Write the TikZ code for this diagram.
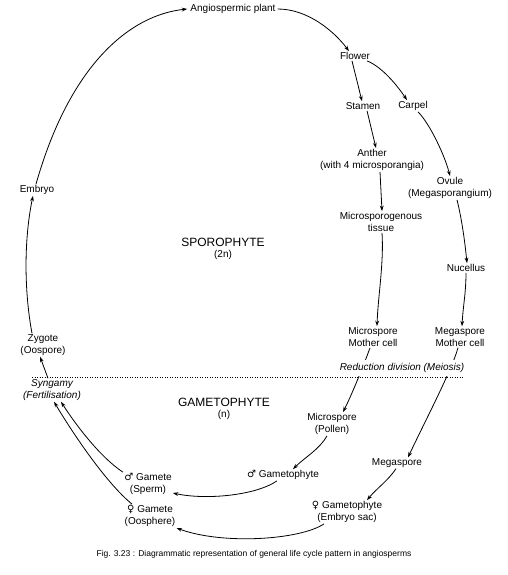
\documentclass[tikz,border=0pt]{standalone}
\usepackage{fontspec}
\setmainfont{Liberation Sans}
\newfontfamily\symfont{DejaVu Sans}
\usetikzlibrary{arrows.meta}
\tikzset{
  lbl/.style={align=center, inner sep=1pt, font=\fontsize{10}{12}\selectfont},
  ilbl/.style={lbl, font=\fontsize{10}{12}\selectfont\itshape},
  big/.style={align=center, inner sep=1pt, font=\fontsize{12}{12.5}\selectfont},
  arr/.style={-{Stealth[length=5.5pt,width=3.8pt]}, line width=0.8pt},
  divline/.style={line width=0.7pt, dash pattern=on 1.2pt off 1.3pt}
}
\begin{document}
\begin{tikzpicture}[x=1pt,y=-1pt]
\useasboundingbox (0,0) rectangle (508,575);
\fill[white] (0,0) rectangle (508,575);
% nodes
\node[lbl] (plant) at (233,9) {Angiospermic plant};
\node[lbl] (flower) at (355,56) {Flower};
\node[lbl] (stamen) at (363,106) {Stamen};
\node[lbl] (carpel) at (413,106) {Carpel};
\node[lbl] (anther) at (372,160) {Anther\\(with 4 microsporangia)};
\node[lbl] (ovule) at (450,188) {Ovule\\(Megasporangium)};
\node[lbl] (embryo) at (37,190) {Embryo};
\node[lbl] (tissue) at (381,222) {Microsporogenous\\tissue};
\node[big] (sporo) at (223,249) {SPOROPHYTE\\[-1pt]{\fontsize{10}{12}\selectfont(2n)}};
\node[lbl] (nucellus) at (466,268) {Nucellus};
\node[lbl] (mmc) at (373,337) {Microspore\\Mother cell};
\node[lbl] (megmc) at (460,337) {Megaspore\\Mother cell};
\node[lbl] (zygote) at (43,345) {Zygote\\(Oospore)};
\node[ilbl] (syngamy) at (52,390) {Syngamy\\(Fertilisation)};
\node[big] (gameto) at (224,409) {GAMETOPHYTE\\[-1pt]{\fontsize{10}{12}\selectfont(n)}};
\node[lbl] (pollen) at (332,424) {Microspore\\(Pollen)};
\node[lbl] (megaspore) at (397,463) {Megaspore};
\node[lbl] (mgphyte) at (283,475) {{\symfont ♂} Gametophyte};
\node[lbl] (mgamete) at (148,484) {{\symfont ♂} Gamete\\(Sperm)};
\node[lbl] (fgamete) at (150,516) {{\symfont ♀} Gamete\\(Oosphere)};
\node[lbl] (fgphyte) at (347,512) {{\symfont ♀} Gametophyte\\(Embryo sac)};
\node[align=center, inner sep=1pt, font=\fontsize{8.5}{10}\selectfont] (caption) at (254,554) {Fig. 3.23 : Diagrammatic representation of general life cycle pattern in angiosperms};
% connectors
\draw[arr] ([xshift=-1pt]embryo.north) .. controls +(34,-120) and +(-57,6) .. ([xshift=-2pt]plant.west);
\draw[arr] ([xshift=1pt]plant.east) .. controls +(30,0) and +(-15,-20) .. ([xshift=-6pt]flower.north);
\draw[arr] ([xshift=-3pt]flower.south) -- ([xshift=-1pt]stamen.north);
\draw[arr] ([xshift=12pt]flower.south) .. controls +(15,6) and +(-10,-15) .. ([xshift=-6pt]carpel.north);
\draw[arr] ([xshift=4pt]stamen.south) -- ([xshift=4pt]anther.north);
\draw[arr] ([xshift=5pt]carpel.south) .. controls +(12,12) and +(-5,-20) .. ([xshift=0pt]ovule.north);
\draw[arr] ([xshift=8pt]anther.south) -- ([xshift=1pt]tissue.north);
\draw[arr] ([xshift=7pt]ovule.south) .. controls +(5,20) and +(-2,-20) .. ([xshift=1pt]nucellus.north);
\draw[arr] ([xshift=1pt]tissue.south) .. controls +(2,30) and +(1,-30) .. ([xshift=4pt]mmc.north);
\draw[arr] (nucellus.south) .. controls +(0,20) and +(1,-20) .. ([xshift=2pt]megmc.north);
\draw[arr] ([xshift=-3pt]mmc.south) .. controls +(-8,22) and +(8,-16) .. ([xshift=11pt]pollen.north);
\draw[arr] ([xshift=-2pt]megmc.south) .. controls +(-6,22) and +(18,-38) .. ([xshift=11pt]megaspore.north);
\draw[arr] ([xshift=-5pt]pollen.south) .. controls +(-8,14) and +(12,-12) .. ([xshift=10pt]mgphyte.north);
\draw[arr] ([xshift=-1pt]megaspore.south) .. controls +(-8,12) and +(10,-12) .. ([xshift=20pt]fgphyte.north);
\draw[arr] ([xshift=-6pt]mgphyte.south) .. controls +(-22,15) and +(32,7) .. (mgamete.east |- 0,493);
\draw[arr] ([xshift=-23pt]fgphyte.south) .. controls +(-24,16) and +(46,17) .. (fgamete.east |- 0,528);
\draw[arr] ([xshift=-25pt]mgamete.north) .. controls +(-23,-15) and +(14,22) .. ([xshift=9pt]syngamy.south);
\draw[arr] ([xshift=-18pt]fgamete.north) .. controls +(-27,-22) and +(16,27) .. ([xshift=2pt]syngamy.south);
\draw[arr] ([xshift=-4pt]syngamy.north) -- ([xshift=-3pt]zygote.south);
\draw[arr] ([xshift=-11pt]zygote.north) .. controls +(-8,-43) and +(-9,43) .. ([xshift=-4pt]embryo.south);
% reduction division label with gap, then dividing line
\node[ilbl, fill=white, inner ysep=3pt] (meiosis) at (402,368) {Reduction division (Meiosis)};
\coordinate (lineA) at (32,377);
\coordinate (lineB) at (464,377);
\draw[divline] (lineA) -- (lineB);
\end{tikzpicture}
\end{document}
